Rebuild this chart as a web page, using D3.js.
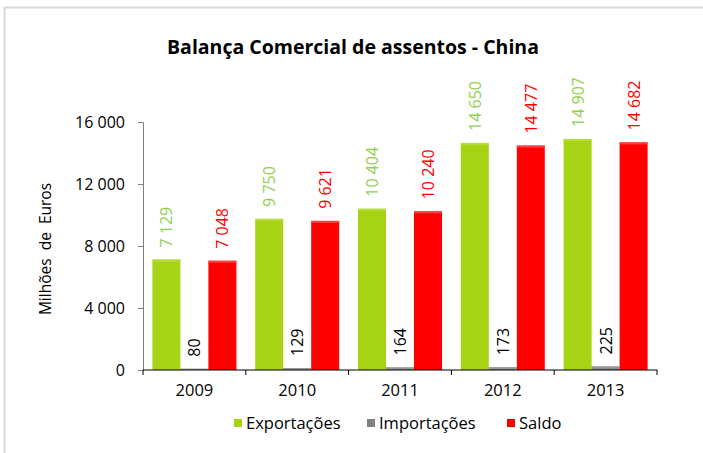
<!DOCTYPE html>
<meta charset="utf-8">
<style>
  body { margin: 0; background: #fff; }
  text { font-family: "Open Sans", "DejaVu Sans", sans-serif; }
</style>
<body>
<script src="https://cdn.jsdelivr.net/npm/d3@7/dist/d3.min.js"></script>
<script>
// chart data
var years = ["2009", "2010", "2011", "2012", "2013"];
var exportacoes = [7129, 9750, 10404, 14650, 14907];
var importacoes = [80, 129, 164, 173, 225];
var saldo = [7048, 9621, 10240, 14477, 14682];
var yTicks = [0, 4000, 8000, 12000, 16000];
var seriesNames = ["Exportações", "Importações", "Saldo"];

var colors = ["#a6d414", "#808080", "#ff0000"];
var labelColors = ["#92d050", "#000000", "#ff0000"];
var topColors = ["#b5dd3c", "#999999", "#ff4040"];

var W = 703, H = 453;
var margin = {top: 122, right: 46, bottom: 83, left: 143};

var svg = d3.select("body").append("svg")
    .attr("width", W)
    .attr("height", H);

// light frame (chart is cropped on right and bottom)
svg.append("rect")
    .attr("x", 4.5).attr("y", 7.5)
    .attr("width", W + 10).attr("height", H + 10)
    .attr("fill", "none")
    .attr("stroke", "#d9d9d9")
    .attr("stroke-width", 2);

var x = d3.scaleBand().domain(years).range([margin.left, W - margin.right]);
var y = d3.scaleLinear().domain([0, 16000]).range([H - margin.bottom, margin.top]);

var fmt = function(v) { return d3.format(",")(v).replace(/,/g, " "); };

var series = [exportacoes, importacoes, saldo];
var barW = 28, pad = (x.bandwidth() - 3 * barW) / 2;

series.forEach(function(vals, si) {
  var g = svg.append("g");
  g.selectAll("rect.bar")
    .data(vals)
    .enter().append("rect")
      .attr("class", "bar")
      .attr("x", function(d, i) { return x(years[i]) + pad + si * barW; })
      .attr("y", function(d) { return y(d); })
      .attr("width", barW)
      .attr("height", function(d) { return y(0) - y(d); })
      .attr("fill", colors[si]);
  // lighter top edge
  g.selectAll("rect.top")
    .data(vals)
    .enter().append("rect")
      .attr("class", "top")
      .attr("x", function(d, i) { return x(years[i]) + pad + si * barW; })
      .attr("y", function(d) { return y(d); })
      .attr("width", barW)
      .attr("height", function(d) { return Math.min(2, y(0) - y(d)); })
      .attr("fill", topColors[si]);
  g.selectAll("text")
    .data(vals)
    .enter().append("text")
      .attr("transform", function(d, i) {
        var cx = x(years[i]) + pad + si * barW + barW / 2;
        return "translate(" + (cx + 6) + "," + (y(d) - 12) + ") rotate(-90)";
      })
      .attr("fill", labelColors[si])
      .style("font-size", "16px")
      .text(function(d) { return fmt(d); });
});

// y axis
var yAxis = svg.append("g")
    .attr("transform", "translate(" + margin.left + ",0)")
    .call(d3.axisLeft(y).tickValues(yTicks).tickSize(5).tickPadding(13).tickFormat(fmt));
yAxis.select(".domain").attr("stroke", "#808080");
yAxis.selectAll(".tick line").attr("stroke", "#808080");
yAxis.selectAll(".tick text").style("font-size", "16px").attr("fill", "#000");

// x axis
var xAxis = svg.append("g")
    .attr("transform", "translate(0," + y(0) + ")")
    .call(d3.axisBottom(x).tickSize(0).tickPadding(14));
xAxis.select(".domain").attr("stroke", "#000").attr("d", "M" + margin.left + ",0H" + (W - margin.right));
xAxis.selectAll(".tick text").style("font-size", "16.5px").attr("fill", "#000");
// category separators
svg.append("g").selectAll("line")
  .data(years.concat(["end"]))
  .enter().append("line")
    .attr("x1", function(d, i) { return margin.left + i * x.bandwidth(); })
    .attr("x2", function(d, i) { return margin.left + i * x.bandwidth(); })
    .attr("y1", y(0)).attr("y2", y(0) + 5)
    .attr("stroke", "#000");

// y axis title
svg.append("text")
    .attr("transform", "translate(51," + (y(8000) + 3) + ") rotate(-90)")
    .attr("text-anchor", "middle")
    .style("font-size", "15.5px")
    .attr("xml:space", "preserve")
    .style("white-space", "pre")
    .text("Milhões  de  Euros");

// title
svg.append("text")
    .attr("x", 353).attr("y", 54)
    .attr("text-anchor", "middle")
    .style("font-size", "19.5px")
    .style("font-weight", "bold")
    .text("Balança Comercial de assentos - China");

// legend
var legX = [234, 367, 507];
var leg = svg.append("g").selectAll("g")
  .data(seriesNames)
  .enter().append("g")
    .attr("transform", function(d, i) { return "translate(" + legX[i] + ",419)"; });
leg.append("rect")
    .attr("width", 8).attr("height", 8)
    .attr("fill", function(d, i) { return colors[i]; });
leg.append("text")
    .attr("x", 12).attr("y", 10)
    .style("font-size", "16.5px")
    .text(function(d) { return d; });
</script>
</body>
